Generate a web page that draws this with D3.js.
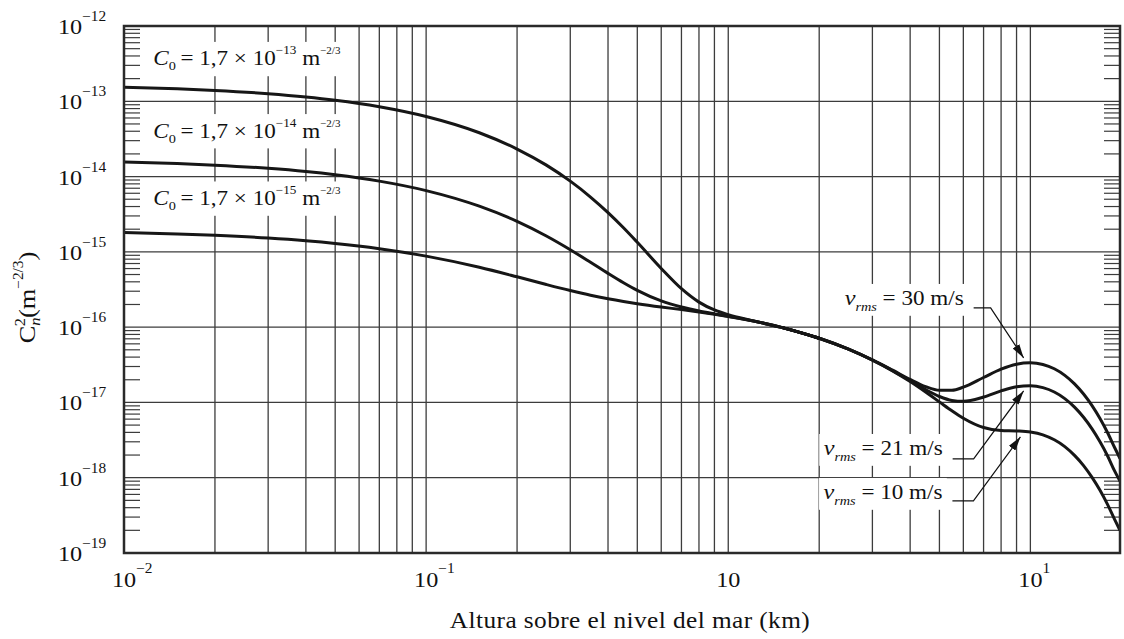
<!DOCTYPE html>
<html>
<head>
<meta charset="utf-8">
<script src="https://cdn.jsdelivr.net/npm/d3@7"></script>
<style>
  html, body { margin: 0; padding: 0; background: #fff; }
  svg { display: block; font-family: "Liberation Serif", "Times New Roman", serif; }
</style>
</head>
<body>
<div id="chart"></div>
<script>
// altura (km) de la parte baja, común a las tres curvas de C0
const lowHeights = [0.01, 0.015, 0.02, 0.03, 0.04, 0.05, 0.07, 0.1, 0.15, 0.2, 0.25, 0.3, 0.35,
  0.4, 0.45, 0.5, 0.6, 0.7, 0.8, 0.9, 1.0, 1.2, 1.5, 2.0]
const c0Labels = ['−13', '−14', '−15']
const c0Values = [
  [1.541e-13, 1.466e-13, 1.395e-13, 1.262e-13, 1.142e-13, 1.034e-13, 8.47e-14, 6.28e-14, 3.82e-14,
    2.32e-14, 1.418e-14, 8.69e-15, 5.35e-15, 3.32e-15, 2.09e-15, 1.339e-15, 6.02e-16, 3.24e-16,
    2.15e-16, 1.69e-16, 1.46e-16, 1.22e-16, 9.94e-17, 7.12e-17],
  [1.565e-14, 1.490e-14, 1.419e-14, 1.286e-14, 1.166e-14, 1.057e-14, 8.70e-15, 6.51e-15, 4.04e-15,
    2.54e-15, 1.624e-15, 1.067e-15, 7.27e-16, 5.18e-16, 3.89e-16, 3.08e-16, 2.23e-16, 1.85e-16,
    1.64e-16, 1.50e-16, 1.39e-16, 1.213e-16, 9.93e-17, 7.12e-17],
  [1.806e-15, 1.730e-15, 1.658e-15, 1.524e-15, 1.402e-15, 1.292e-15, 1.102e-15, 8.78e-16, 6.24e-16,
    4.66e-16, 3.68e-16, 3.06e-16, 2.65e-16, 2.38e-16, 2.19e-16, 2.05e-16, 1.85e-16, 1.71e-16,
    1.59e-16, 1.484e-16, 1.387e-16, 1.213e-16, 9.93e-17, 7.12e-17]
]
// label anchor (km, Cn2) for each C0 label
const c0LabelPos = [[0.0125, 3.0e-13], [0.0125, 3.3e-14], [0.0125, 4.2e-15]]

// altura (km) de la parte alta, tres velocidades de viento
const highHeights = [1.5, 2, 2.5, 3, 3.5, 4, 4.5, 5, 5.5, 6, 7, 8, 9, 10, 11, 12, 13, 14, 15, 16,
  17, 18, 19, 19.8]
const vrmsLabels = ['30', '21', '10']
const vrmsValues = [
  [9.93e-17, 7.12e-17, 5.11e-17, 3.67e-17, 2.68e-17, 2.02e-17, 1.62e-17, 1.446e-17, 1.449e-17,
    1.594e-17, 2.143e-17, 2.773e-17, 3.222e-17, 3.363e-17, 3.195e-17, 2.798e-17, 2.290e-17,
    1.766e-17, 1.295e-17, 9.08e-18, 6.12e-18, 3.99e-18, 2.52e-18, 1.8e-18],
  [9.93e-17, 7.12e-17, 5.10e-17, 3.66e-17, 2.65e-17, 1.95e-17, 1.48e-17, 1.199e-17, 1.062e-17,
    1.034e-17, 1.180e-17, 1.425e-17, 1.613e-17, 1.665e-17, 1.575e-17, 1.376e-17, 1.125e-17,
    8.66e-18, 6.35e-18, 4.45e-18, 3.00e-18, 1.96e-18, 1.23e-18, 9.0e-19],
  [9.93e-17, 7.12e-17, 5.10e-17, 3.65e-17, 2.625e-17, 1.893e-17, 1.375e-17, 1.017e-17, 7.74e-18,
    6.17e-18, 4.64e-18, 4.24e-18, 4.18e-18, 4.04e-18, 3.71e-18, 3.19e-18, 2.59e-18, 1.98e-18,
    1.45e-18, 1.01e-18, 6.8e-19, 4.43e-19, 2.8e-19, 2.0e-19]
]
// arrow tip (km, Cn2) for each vrms label
const vrmsTips = [[9.5, 3.9e-17], [9.5, 1.42e-17], [9.27, 3.48e-18]]

const xTickValues = [0.01, 0.1, 1, 10]
const xTickSup = ['−2', '−1', '', '1']

;(function() {
  const width = 1124
  const height = 639
  const margin = {top: 26, right: 4, bottom: 86, left: 124}
  const x0 = margin.left, x1 = width - margin.right
  const y0 = height - margin.bottom, y1 = margin.top
  const gridColor = '#3c3c3c'
  const sx = 1.1   // el original tiene el texto algo ensanchado

  const x = d3.scaleLog().domain([0.01, 19.8]).range([x0, x1])
  const y = d3.scaleLog().domain([1e-19, 1e-12]).range([y0, y1])
  const isDecade = v => Math.abs(Math.log10(v) - Math.round(Math.log10(v))) < 1e-6
  const place = (px, py) => `translate(${px},${py}) scale(${sx},1)`

  const svg = d3.select('#chart').append('svg')
      .attr('width', width)
      .attr('height', height)

  svg.append('defs').append('clipPath').attr('id', 'plot')
    .append('rect').attr('x', x0).attr('y', y1).attr('width', x1 - x0).attr('height', y0 - y1)

  svg.select('defs').append('marker')
      .attr('id', 'arrow')
      .attr('markerUnits', 'userSpaceOnUse')
      .attr('markerWidth', 14).attr('markerHeight', 8)
      .attr('refX', 14).attr('refY', 4)
      .attr('orient', 'auto')
    .append('path')
      .attr('d', 'M0,0 L14,4 L0,8 Z')
      .attr('fill', '#111')

  // rejilla vertical (1..9 por década)
  svg.append('g')
      .attr('stroke', gridColor)
      .attr('stroke-width', 1.3)
    .selectAll('line')
    .data(x.ticks().filter(d => d > 0.01 && d < 19.8))
    .enter().append('line')
      .attr('x1', d => x(d)).attr('x2', d => x(d))
      .attr('y1', y1).attr('y2', y0)

  // rejilla horizontal (décadas) y marcas menores a ambos lados
  const yTicks = y.ticks()
  svg.append('g')
      .attr('stroke', gridColor)
      .attr('stroke-width', 1.3)
    .selectAll('line')
    .data(yTicks.filter(isDecade))
    .enter().append('line')
      .attr('x1', x0).attr('x2', x1)
      .attr('y1', d => y(d)).attr('y2', d => y(d))

  const minor = svg.append('g')
      .attr('stroke', gridColor)
      .attr('stroke-width', 1.2)
  minor.selectAll('line.l')
    .data(yTicks.filter(d => !isDecade(d)))
    .enter().append('line').attr('class', 'l')
      .attr('x1', x0).attr('x2', x0 + 16)
      .attr('y1', d => y(d)).attr('y2', d => y(d))
  minor.selectAll('line.r')
    .data(yTicks.filter(d => !isDecade(d)))
    .enter().append('line').attr('class', 'r')
      .attr('x1', x1 - 16).attr('x2', x1)
      .attr('y1', d => y(d)).attr('y2', d => y(d))

  // etiquetas con fondo blanco
  const addBox = (g, pad) => {
    const b = g.select('text').node().getBBox()
    g.insert('rect', 'text')
      .attr('x', b.x - pad).attr('y', b.y - pad + 3)
      .attr('width', b.width + 2 * pad).attr('height', b.height + 2 * pad - 5)
      .attr('fill', '#fff')
  }

  c0Labels.forEach((exp, i) => {
    const g = svg.append('g')
        .attr('transform', place(x(c0LabelPos[i][0]), y(c0LabelPos[i][1])))
    const t = g.append('text')
        .attr('font-size', 21)
        .attr('fill', '#111')
    t.append('tspan').attr('font-style', 'italic').text('C')
    t.append('tspan').attr('font-size', 13).attr('dy', 5).text('0')
    t.append('tspan').attr('dy', -5).text('\u2009= 1,7 × 10')
    t.append('tspan').attr('font-size', 12).attr('dy', -11).text(exp)
    t.append('tspan').attr('dy', 11).text(' m')
    t.append('tspan').attr('font-size', 10).attr('dy', -11).text('−2/3')
    addBox(g, 5)
  })

  // curvas
  const line = d3.line()
      .x(d => x(d[0]))
      .y(d => y(d[1]))
      .curve(d3.curveMonotoneX)

  const curves = svg.append('g')
      .attr('clip-path', 'url(#plot)')
      .attr('fill', 'none')
      .attr('stroke', '#161616')
      .attr('stroke-width', 3)
      .attr('stroke-linejoin', 'round')
  c0Values.forEach(vals => {
    curves.append('path').attr('d', line(d3.zip(lowHeights, vals)))
  })
  vrmsValues.forEach(vals => {
    curves.append('path').attr('d', line(d3.zip(highHeights, vals)))
  })

  // etiquetas de v_rms con flecha
  const leaders = [
    {elbow: [-33, -50], start: -50, text: [-60, -53]},
    {elbow: [-50, 68], start: -71, text: [-81, 64]},
    {elbow: [-47, 64], start: -68, text: [-78, 62]}
  ]
  vrmsLabels.forEach((v, i) => {
    const tx = x(vrmsTips[i][0]), ty = y(vrmsTips[i][1])
    const L = leaders[i]
    const g = svg.append('g')
        .attr('transform', place(tx + L.text[0], ty + L.text[1]))
    const t = g.append('text')
        .attr('text-anchor', 'end')
        .attr('font-size', 21)
        .attr('fill', '#111')
    t.append('tspan').attr('font-style', 'italic').attr('font-size', 22).text('v')
    t.append('tspan').attr('font-style', 'italic').attr('font-size', 13).attr('dy', 6).text('rms')
    t.append('tspan').attr('dy', -6).text(` = ${v} m/s`)
    addBox(g, 4)
    svg.append('path')
        .attr('d', `M${tx + L.start},${ty + L.elbow[1]}H${tx + L.elbow[0]}L${tx},${ty}`)
        .attr('fill', 'none')
        .attr('stroke', '#111')
        .attr('stroke-width', 1.2)
        .attr('marker-end', 'url(#arrow)')
  })

  // marco
  svg.append('rect')
      .attr('x', x0).attr('y', y1)
      .attr('width', x1 - x0).attr('height', y0 - y1)
      .attr('fill', 'none')
      .attr('stroke', '#2a2a2a')
      .attr('stroke-width', 2.5)

  // etiquetas del eje y
  const yLab = svg.append('g').attr('fill', '#111')
    .selectAll('text')
    .data(yTicks.filter(isDecade))
    .enter().append('text')
      .attr('transform', d => place(58, y(d) + 8))
      .attr('font-size', 22)
  yLab.append('tspan').text('10')
  yLab.append('tspan')
      .attr('font-size', 14)
      .attr('dy', -13)
      .text(d => '−' + Math.abs(Math.round(Math.log10(d))))

  // etiquetas del eje x
  const xLab = svg.append('g').attr('fill', '#111')
    .selectAll('text')
    .data(xTickValues)
    .enter().append('text')
      .attr('transform', d => place(x(d) - 12, 587))
      .attr('font-size', 22)
  xLab.append('tspan').text('10')
  xLab.append('tspan')
      .attr('font-size', 14)
      .attr('dy', -14)
      .text((d, i) => xTickSup[i])

  // títulos
  svg.append('text')
      .attr('transform', place((x0 + x1) / 2 + 8, 628))
      .attr('text-anchor', 'middle')
      .attr('font-size', 23)
      .attr('letter-spacing', 0.4)
      .attr('fill', '#111')
      .text('Altura sobre el nivel del mar (km)')

  const yt = svg.append('text')
      .attr('transform', `translate(35,${(y0 + y1) / 2 + 8}) rotate(-90) scale(${sx},1)`)
      .attr('text-anchor', 'middle')
      .attr('font-size', 24)
      .attr('fill', '#111')
  yt.append('tspan').text('C')
  yt.append('tspan').attr('font-style', 'italic').attr('font-size', 15).attr('dy', 5).text('n')
  yt.append('tspan').attr('font-size', 15).attr('dx', -8).attr('dy', -15).text('2')
  yt.append('tspan').attr('dy', 10).text('(m')
  yt.append('tspan').attr('font-size', 14).attr('dy', -12).text('−2/3')
  yt.append('tspan').attr('dy', 12).text(')')
})()
</script>
</body>
</html>
